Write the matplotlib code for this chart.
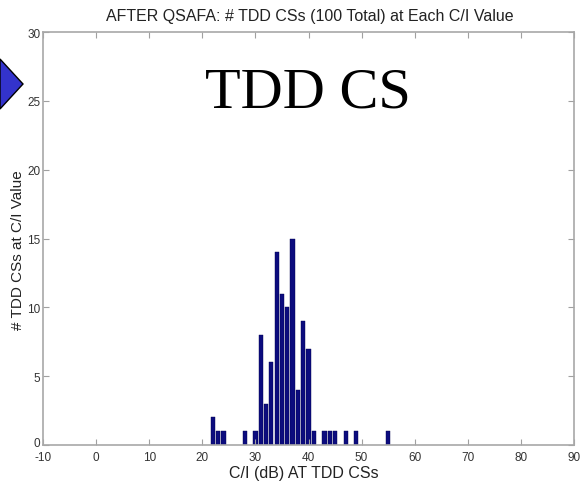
import matplotlib
matplotlib.use("Agg")
import matplotlib.pyplot as plt
import matplotlib.transforms as mtransforms
from matplotlib.patches import Polygon

ci_values = [22, 23, 24, 28, 30, 31, 32, 33, 34, 35, 36, 37, 38, 39, 40, 41, 43, 44, 45, 47, 49, 55]
counts    = [2, 1, 1, 1, 1, 8, 3, 6, 14, 11, 10, 15, 4, 9, 7, 1, 1, 1, 1, 1, 1, 1]
xticks = [-10, 0, 10, 20, 30, 40, 50, 60, 70, 80, 90]
yticks = [0, 5, 10, 15, 20, 25, 30]

plt.rcParams['font.family'] = ['Liberation Sans', 'DejaVu Sans']
plt.rcParams['axes.unicode_minus'] = False

W, H = 587, 485
fig = plt.figure(figsize=(W/100, H/100), dpi=100)
ax = fig.add_axes([43/W, (H-446)/H, 531/W, 413/H])

ax.bar(ci_values, counts, width=0.8, color='#0c0c7e', edgecolor='#000050', linewidth=0.3)
ax.set_xlim(-10, 90)
ax.set_ylim(0, 30)
ax.set_xticks(xticks)
ax.set_yticks(yticks)
ax.tick_params(direction='in', length=4, color='#a0a0a0', labelcolor='#333333',
               labelsize=8.5, top=True, right=True, pad=2)
ax.tick_params(axis='x', pad=4)
for s in ax.spines.values():
    s.set_color('#a8a8a8')
    s.set_linewidth(1.2)

# nudge the y "0" label up slightly, as in the reference corner
lbl0 = ax.get_yticklabels()[0]
lbl0.set_transform(lbl0.get_transform() +
                   mtransforms.ScaledTranslation(0, 3/100, fig.dpi_scale_trans))

fig.text(310/W, 1-17/H, 'AFTER QSAFA: # TDD CSs (100 Total) at Each C/I Value',
         ha='center', va='center', fontsize=11.5, color='#222222')
fig.text(304/W, 1-474/H, 'C/I (dB) AT TDD CSs', ha='center', va='center',
         fontsize=11.5, color='#222222')
fig.text(18/W, 1-250/H, '# TDD CSs at C/I Value', ha='center', va='center',
         rotation=90, fontsize=11, color='#222222')

fig.text(308/W, 1-93/H, 'TDD CS', ha='center', va='center', fontsize=42,
         family=['Liberation Serif', 'DejaVu Serif'], color='black')

poly = Polygon([[0, 1-60/H], [23/W, 1-85/H], [0, 1-110/H]], closed=True,
               transform=fig.transFigure, facecolor='#3333cc', edgecolor='black',
               linewidth=1.0, clip_on=False)
fig.patches.append(poly)

fig.savefig('out.png', dpi=100)
